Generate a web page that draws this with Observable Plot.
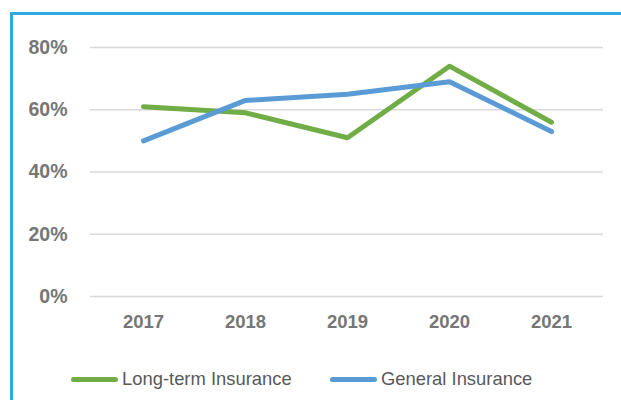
<!DOCTYPE html>
<html>
<head>
<meta charset="utf-8">
<script src="https://cdn.jsdelivr.net/npm/d3@7"></script>
<script src="https://cdn.jsdelivr.net/npm/@observablehq/plot@0.6"></script>
<style>
  html, body { margin: 0; padding: 0; background: #fff; }
  #wrap { position: relative; width: 621px; height: 400px; overflow: hidden; font-family: "Liberation Sans", Arial, sans-serif; }
  #frame { position: absolute; left: 10px; top: 12px; right: -5px; bottom: -5px; border-left: 3px solid #30a8e0; border-top: 3px solid #30a8e0; }
  #chart { position: absolute; left: 0; top: 0; }
  #legend { position: absolute; top: 368px; left: 0; width: 621px; height: 22px; font-size: 18.4px; color: #595959; }
  .item { position: absolute; top: 0; display: flex; align-items: center; height: 22px; }
  .swatch { width: 47px; height: 5px; border-radius: 3px; margin-right: 4px; }
</style>
</head>
<body>
<div id="wrap">
  <div id="frame"></div>
  <div id="chart"></div>
  <div id="legend"></div>
</div>
<script>
const years = ["2017", "2018", "2019", "2020", "2021"];
const longTerm = [0.61, 0.59, 0.51, 0.74, 0.56];
const general = [0.50, 0.63, 0.65, 0.69, 0.53];
const seriesNames = ["Long-term Insurance", "General Insurance"];
const seriesColors = ["#70ad47", "#5b9bd5"];
const yTicks = [0, 0.2, 0.4, 0.6, 0.8];

const rows = [];
years.forEach((y, i) => {
  rows.push({year: y, value: longTerm[i], series: seriesNames[0]});
  rows.push({year: y, value: general[i], series: seriesNames[1]});
});

const chart = Plot.plot({
  width: 621,
  height: 345,
  marginLeft: 90,
  marginRight: 18,
  marginTop: 47,
  marginBottom: 49,
  style: {fontFamily: "'Liberation Sans', Arial, sans-serif", background: "transparent", overflow: "visible"},
  x: {type: "point", domain: years, padding: 0.5, label: null},
  y: {domain: [0, 0.8], label: null},
  color: {domain: seriesNames, range: seriesColors},
  marks: [
    Plot.ruleY(yTicks, {stroke: "#d9d9d9", strokeWidth: 1.5}),
    Plot.axisY({ticks: yTicks, tickFormat: d => Math.round(d * 100) + "%", tickSize: 0, tickPadding: 23, fontSize: 19.5, fontWeight: "bold", fill: "#767676", label: null}),
    Plot.axisX({tickSize: 0, tickPadding: 18, fontSize: 18.5, fontWeight: "bold", fill: "#767676", label: null}),
    Plot.line(rows, {x: "year", y: "value", z: "series", stroke: "series", strokeWidth: 5, strokeLinecap: "round", strokeLinejoin: "round"})
  ]
});
document.getElementById("chart").appendChild(chart);

const legend = document.getElementById("legend");
const lefts = [71, 330];
seriesNames.forEach((name, i) => {
  const it = document.createElement("div");
  it.className = "item";
  it.style.left = lefts[i] + "px";
  const sw = document.createElement("div");
  sw.className = "swatch";
  sw.style.background = seriesColors[i];
  const tx = document.createElement("span");
  tx.textContent = name;
  it.appendChild(sw);
  it.appendChild(tx);
  legend.appendChild(it);
});
</script>
</body>
</html>
